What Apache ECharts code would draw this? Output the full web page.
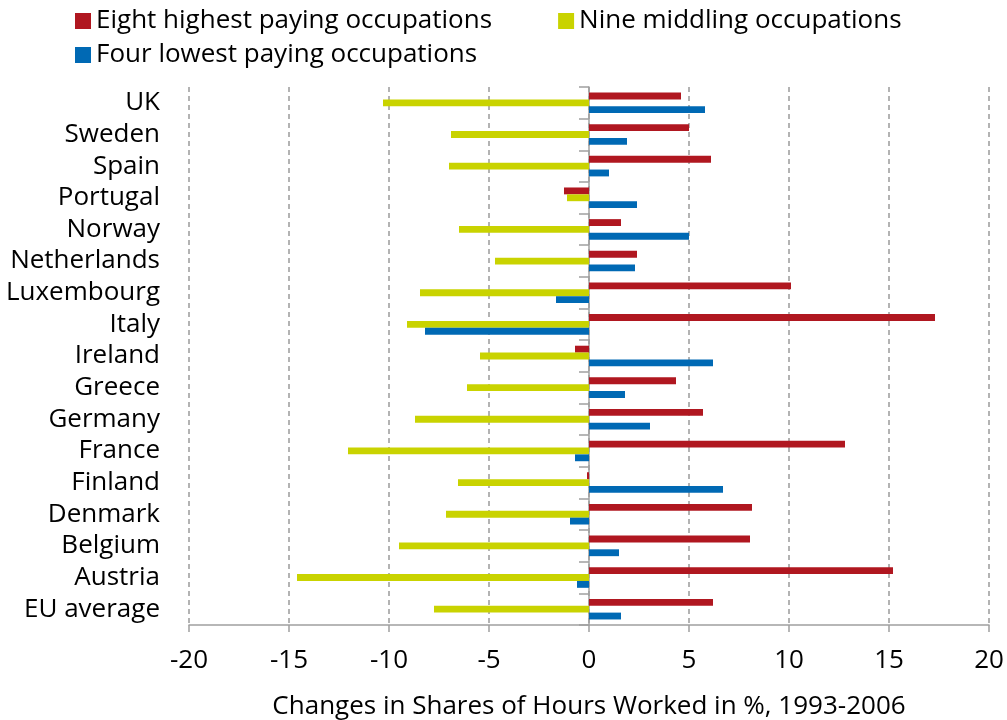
<!DOCTYPE html>
<html>
<head>
<meta charset="utf-8">
<script src="https://cdn.jsdelivr.net/npm/echarts@6/dist/echarts.min.js"></script>
<style>
  html, body { margin: 0; padding: 0; background: #fff; }
  #main { width: 1007px; height: 720px; }
</style>
</head>
<body>
<div id="main"></div>
<script>
// countries, top to bottom
var countries = ['UK', 'Sweden', 'Spain', 'Portugal', 'Norway', 'Netherlands', 'Luxembourg', 'Italy',
  'Ireland', 'Greece', 'Germany', 'France', 'Finland', 'Denmark', 'Belgium', 'Austria', 'EU average'];

var highPay = [4.6, 5.0, 6.1, -1.25, 1.6, 2.4, 10.1, 17.3, -0.7, 4.35, 5.7, 12.8, -0.1, 8.15, 8.05, 15.2, 6.2];
var middling = [-10.3, -6.9, -7.0, -1.1, -6.5, -4.7, -8.45, -9.1, -5.45, -6.1, -8.7, -12.05, -6.55, -7.15, -9.5, -14.6, -7.75];
var lowPay = [5.8, 1.9, 1.0, 2.4, 5.0, 2.3, -1.65, -8.2, 6.2, 1.8, 3.05, -0.7, 6.7, -0.95, 1.5, -0.6, 1.6];

var seriesNames = ['Eight highest paying occupations', 'Nine middling occupations', 'Four lowest paying occupations'];
var colors = ['#B01720', '#C9D300', '#0069B4'];

var font = 'Open Sans';
var fs = 26;
var chart = echarts.init(document.getElementById('main'));

function mkBar(i, data) {
  return {
    name: seriesNames[i],
    type: 'bar',
    data: data,
    yAxisIndex: 0,
    barGap: '0%',
    barCategoryGap: '35%',
    itemStyle: { color: colors[i] },
    animation: false
  };
}

var option = {
  animation: false,
  legend: [{
    data: [seriesNames[0], seriesNames[1]],
    left: 70, top: 3,
    itemWidth: 16, itemHeight: 16, itemGap: 66,
    icon: 'rect',
    textStyle: { fontFamily: font, fontSize: fs, color: '#000' }
  }, {
    data: [seriesNames[2]],
    left: 70, top: 37,
    itemWidth: 16, itemHeight: 16,
    icon: 'rect',
    textStyle: { fontFamily: font, fontSize: fs, color: '#000' }
  }],
  grid: { left: 189, right: 18, top: 87, bottom: 95, containLabel: false, outerBoundsMode: 'none' },
  xAxis: {
    type: 'value',
    min: -20, max: 20, interval: 5,
    name: 'Changes in Shares of Hours Worked in %, 1993-2006',
    nameLocation: 'middle',
    nameGap: 69,
    nameTextStyle: { fontFamily: font, fontSize: fs, color: '#000' },
    axisLine: { show: true, onZero: false, lineStyle: { color: '#A0A0A0', width: 1.5 } },
    axisTick: { show: true, length: 7, lineStyle: { color: '#A0A0A0', width: 1.5 } },
    axisLabel: { fontFamily: font, fontSize: fs, color: '#000', margin: 23 },
    splitLine: { show: true, lineStyle: { color: '#9A9A9A', type: [5, 4], width: 1.5 } }
  },
  yAxis: [{
    type: 'category',
    data: countries,
    inverse: true,
    position: 'left',
    axisLine: { show: false, onZero: false },
    axisTick: { show: false },
    axisLabel: { interval: 0, fontFamily: font, fontSize: fs, color: '#000', margin: 29 },
    splitLine: { show: false }
  }, {
    type: 'category',
    data: countries,
    inverse: true,
    position: 'left',
    axisLine: { show: true, onZero: true, lineStyle: { color: '#A0A0A0', width: 1.5 } },
    axisTick: { show: true, interval: 0, length: 10, lineStyle: { color: '#A0A0A0', width: 1.5 } },
    axisLabel: { show: false },
    splitLine: { show: false }
  }],
  series: [mkBar(0, highPay), mkBar(1, middling), mkBar(2, lowPay)]
};

chart.setOption(option);
</script>
</body>
</html>
